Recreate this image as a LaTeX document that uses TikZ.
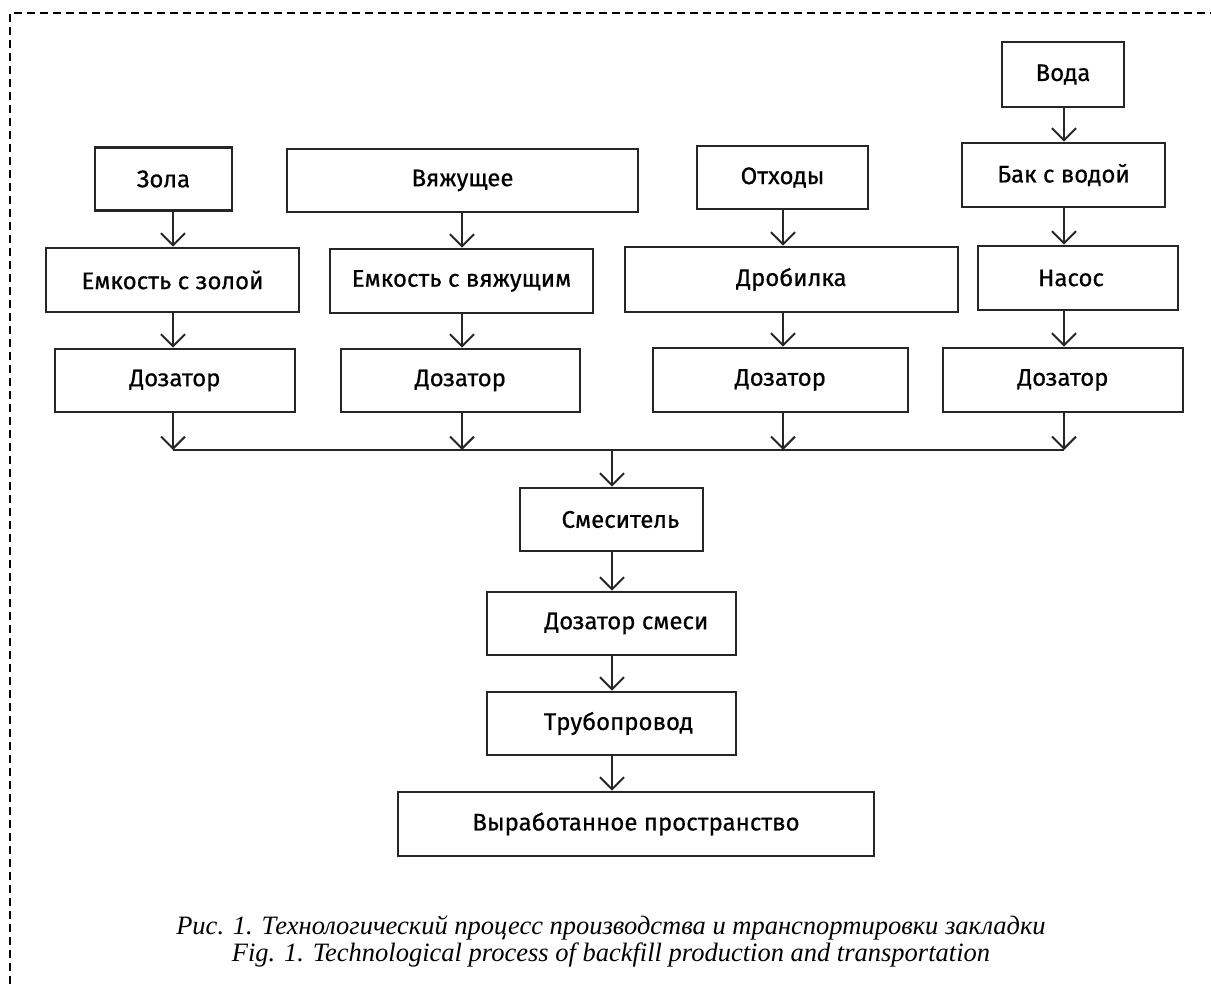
\documentclass[tikz,border=0pt]{standalone}
\usepackage{fontspec}
\setmainfont{Liberation Serif}
\setsansfont{Fira Sans}[FakeBold=0.6]
\usetikzlibrary{arrows.meta}

\begin{document}
\begin{tikzpicture}[
    x=1pt, y=-1pt,
    font=\sffamily\fontsize{24}{27}\selectfont,
    block/.style={rectangle,draw=black!85,line width=2.8pt,align=center,minimum height=63pt,inner sep=0pt},
    arrow/.style={-{Straight Barb[length=12pt,width=24pt]},line width=2pt,black!85},
    caption/.style={align=center,font=\rmfamily\itshape\fontsize{26.5}{27}\selectfont}
]
\useasboundingbox (0,0) rectangle (1211,984);
\draw[line width=1.3pt,dash pattern=on 8pt off 5pt] (10,984) -- (10,13) -- (1211,13);

\coordinate (col1) at (173,0);
\coordinate (col2) at (462,0);
\coordinate (col3) at (783,0);
\coordinate (col4) at (1064,0);
\coordinate (bus) at (612,450);

\node[block,minimum width=122pt,minimum height=65pt] (voda) at (1063,74.5) {Вода};
\node[block,minimum width=137pt] (zola) at (163.5,179) {Зола};
\node[block,minimum width=351pt] (vyazh) at (462.5,180.5) {Вяжущее};
\node[block,minimum width=171pt] (othody) at (782.5,177.5) {Отходы};
\node[block,minimum width=203pt,minimum height=64pt] (bak) at (1063.5,175) {Бак с водой};
\node[block,minimum width=253pt,minimum height=64pt] (emk1) at (172.5,280) {Емкость с золой};
\node[block,minimum width=263pt,minimum height=64pt] (emk2) at (461.5,281) {Емкость с вяжущим};
\node[block,minimum width=333pt,minimum height=65pt] (drob) at (791.5,279.5) {Дробилка};
\node[block,minimum width=200pt,minimum height=64pt] (nasos) at (1078,278) {Насос\hspace*{14pt}};
\node[block,minimum width=240pt] (doz1) at (175,380.5) {Дозатор};
\node[block,minimum width=239pt] (doz2) at (460.5,380.5) {Дозатор};
\node[block,minimum width=255pt,minimum height=64pt] (doz3) at (780.5,380) {Дозатор};
\node[block,minimum width=240pt,minimum height=64pt] (doz4) at (1063,380) {Дозатор};
\node[block,minimum width=183pt] (mix) at (611.5,519.5) {\hspace*{18pt}Смеситель};
\node[block,minimum width=249pt] (dozmix) at (611.5,623.5) {\hspace*{30pt}Дозатор смеси};
\node[block,minimum width=249pt] (pipe) at (611.5,723.5) {\hspace*{14pt}Трубопровод};
\node[block,minimum width=476pt,minimum height=64pt] (space) at (636,824) {Выработанное пространство};

\node[caption] (cap) at (611,941) {Рис. 1. Технологический процесс производства и транспортировки закладки\\Fig. 1. Technological process of backfill production and transportation};

\draw[arrow] (zola.south -| col1) -- (emk1.north -| col1);
\draw[arrow] (emk1.south -| col1) -- (doz1.north -| col1);
\draw[arrow] (vyazh.south -| col2) -- (emk2.north -| col2);
\draw[arrow] (emk2.south -| col2) -- (doz2.north -| col2);
\draw[arrow] (othody.south -| col3) -- (drob.north -| col3);
\draw[arrow] (drob.south -| col3) -- (doz3.north -| col3);
\draw[arrow] (voda.south -| col4) -- (bak.north -| col4);
\draw[arrow] (bak.south -| col4) -- (nasos.north -| col4);
\draw[arrow] (nasos.south -| col4) -- (doz4.north -| col4);

\draw[line width=2pt,black!85] (bus -| col1) -- (bus -| col4);
\draw[arrow] (doz1.south -| col1) -- (bus -| col1);
\draw[arrow] (doz2.south -| col2) -- (bus -| col2);
\draw[arrow] (doz3.south -| col3) -- (bus -| col3);
\draw[arrow] (doz4.south -| col4) -- (bus -| col4);
\draw[arrow] (bus) -- (mix.north -| bus);
\draw[arrow] (mix.south -| bus) -- (dozmix.north -| bus);
\draw[arrow] (dozmix.south -| bus) -- (pipe.north -| bus);
\draw[arrow] (pipe.south -| bus) -- (space.north -| bus);

\end{tikzpicture}
\end{document}
